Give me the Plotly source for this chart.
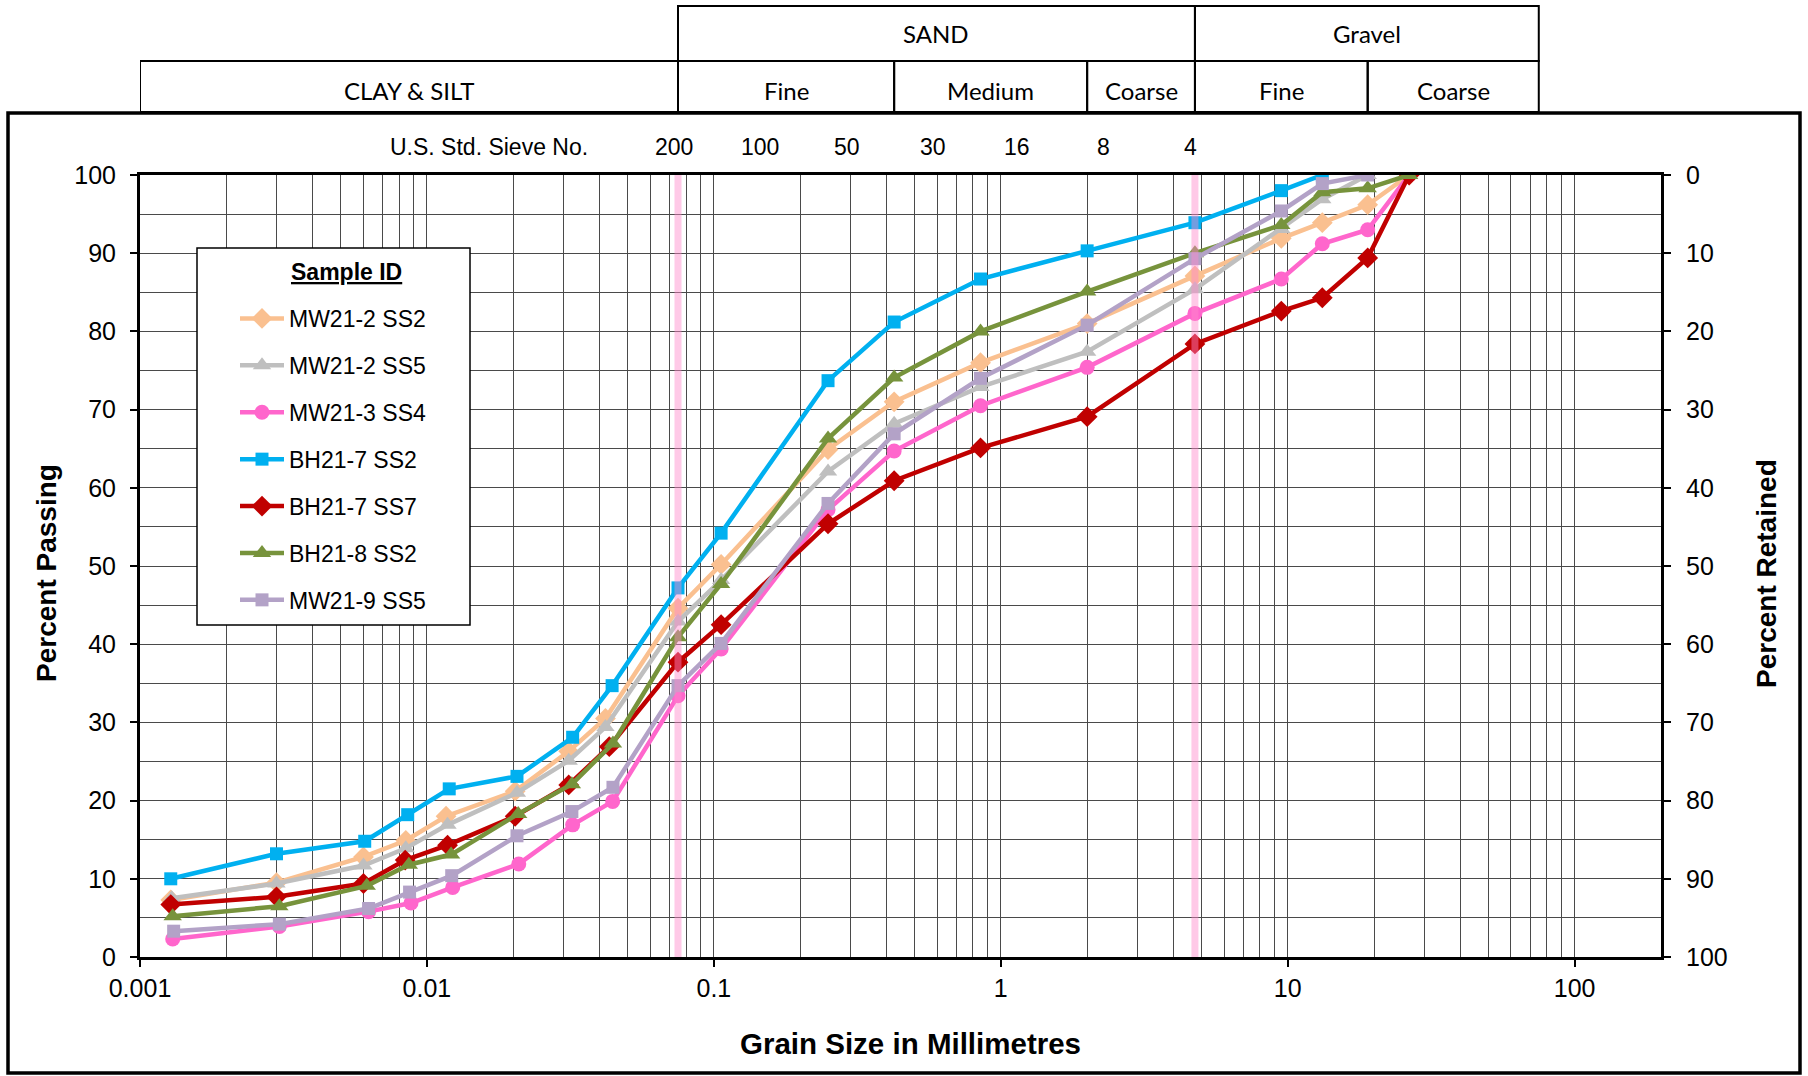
import math
import plotly.graph_objects as go

# ---------------- data ----------------
series_names = ["MW21-2 SS2", "MW21-2 SS5", "MW21-3 SS4", "BH21-7 SS2",
                "BH21-7 SS7", "BH21-8 SS2", "MW21-9 SS5"]

mw21_2_ss2_x = [0.00128, 0.00299, 0.00601, 0.00844, 0.01166, 0.0203, 0.0312, 0.0419,
                0.075, 0.106, 0.25, 0.425, 0.85, 2.0, 4.75, 9.5, 13.2, 19.0, 26.5]
mw21_2_ss2_y = [7.3, 9.5, 12.8, 14.9, 18.0, 21.2, 26.3, 30.5,
                44.6, 50.2, 64.9, 71.0, 76.0, 81.0, 87.1, 91.9, 93.9, 96.2, 100.0]

mw21_2_ss5_x = [0.00129, 0.00299, 0.00601, 0.00844, 0.0118, 0.0206, 0.0312, 0.0419,
                0.075, 0.106, 0.25, 0.425, 0.85, 2.0, 4.75, 9.5, 13.2, 19.0]
mw21_2_ss5_y = [7.5, 9.4, 11.7, 13.9, 16.9, 21.0, 25.1, 29.4,
                42.9, 48.2, 62.1, 68.2, 72.9, 77.4, 85.4, 93.1, 96.9, 100.0]

mw21_3_ss4_x = [0.00130, 0.00306, 0.00626, 0.0088, 0.0123, 0.0209, 0.0322, 0.0444,
                0.075, 0.106, 0.25, 0.425, 0.85, 2.0, 4.75, 9.5, 13.2, 19.0, 26.5]
mw21_3_ss4_y = [2.3, 3.9, 5.8, 6.9, 8.9, 11.9, 16.9, 19.9,
                33.4, 39.4, 57.2, 64.7, 70.5, 75.4, 82.3, 86.7, 91.2, 93.0, 100.0]

bh21_7_ss2_x = [0.00128, 0.00299, 0.00607, 0.00857, 0.01196, 0.0206, 0.0322, 0.0442,
                0.075, 0.106, 0.25, 0.425, 0.85, 2.0, 4.75, 9.5, 13.2]
bh21_7_ss2_y = [10.0, 13.2, 14.8, 18.2, 21.5, 23.1, 28.1, 34.7,
                47.2, 54.2, 73.7, 81.2, 86.7, 90.3, 93.9, 98.0, 100.0]

bh21_7_ss7_x = [0.00128, 0.00299, 0.00601, 0.0084, 0.0118, 0.0203, 0.0312, 0.0432,
                0.075, 0.106, 0.25, 0.425, 0.85, 2.0, 4.75, 9.5, 13.2, 19.0, 26.5]
bh21_7_ss7_y = [6.7, 7.7, 9.4, 12.4, 14.3, 18.0, 22.0, 26.9,
                37.7, 42.5, 55.4, 60.9, 65.1, 69.1, 78.4, 82.6, 84.3, 89.4, 100.0]

bh21_8_ss2_x = [0.00130, 0.00306, 0.00617, 0.00865, 0.01214, 0.0208, 0.0320, 0.0445,
                0.075, 0.106, 0.25, 0.425, 0.85, 2.0, 4.75, 9.5, 13.2, 19.0, 26.5]
bh21_8_ss2_y = [5.2, 6.5, 9.1, 11.8, 13.1, 18.3, 22.1, 27.3,
                40.9, 47.7, 66.3, 74.1, 80.0, 85.1, 90.0, 93.6, 97.8, 98.3, 100.0]

mw21_9_ss5_x = [0.00131, 0.00306, 0.00626, 0.0087, 0.0122, 0.0206, 0.0320, 0.0445,
                0.075, 0.106, 0.25, 0.425, 0.85, 2.0, 4.75, 9.5, 13.2, 19.0]
mw21_9_ss5_y = [3.3, 4.2, 6.2, 8.3, 10.4, 15.5, 18.6, 21.7,
                34.7, 40.1, 58.0, 66.9, 74.0, 80.8, 89.3, 95.4, 98.9, 100.0]

series_x = [mw21_2_ss2_x, mw21_2_ss5_x, mw21_3_ss4_x, bh21_7_ss2_x,
            bh21_7_ss7_x, bh21_8_ss2_x, mw21_9_ss5_x]
series_y = [mw21_2_ss2_y, mw21_2_ss5_y, mw21_3_ss4_y, bh21_7_ss2_y,
            bh21_7_ss7_y, bh21_8_ss2_y, mw21_9_ss5_y]

x_tick_vals = [0.001, 0.01, 0.1, 1, 10, 100]
x_tick_text = ["0.001", "0.01", "0.1", "1", "10", "100"]

sieve_labels = ["200", "100", "50", "30", "16", "8", "4"]
sieve_sizes_mm = [0.075, 0.15, 0.3, 0.6, 1.18, 2.36, 4.75]

# soil classification boundaries (mm)
row2_labels = ["CLAY &amp; SILT", "Fine", "Medium", "Coarse", "Fine", "Coarse"]
row2_bounds = [(0.001, 0.075), (0.075, 0.425), (0.425, 2.0), (2.0, 4.75), (4.75, 19.0), (19.0, 75.0)]
row1_labels = ["SAND", "Gravel"]
row1_bounds = [(0.075, 4.75), (4.75, 75.0)]
marker_lines_mm = [0.075, 4.75]

# ---------------- style ----------------
colors = ["#FAC090", "#BFBFBF", "#FF66CC", "#00B0F0", "#C00000", "#77933C", "#B3A2C7"]
symbols = ["diamond", "triangle-up", "circle", "square", "diamond", "triangle-up", "square"]
msizes = [16, 16, 15, 13, 16, 16, 13]

W, H = 1808, 1076
L, R, T, B = 140, 147, 175, 119
PW, PH = W - L - R, H - T - B
BOT = H - B

def px_x(p):
    return (p - L) / PW

def px_y(p):
    return (BOT - p) / PH

FONT = "Arial, Liberation Sans, sans-serif"
HFONT = "Lato, Calibri, sans-serif"

fig = go.Figure()
for i, name in enumerate(series_names):
    fig.add_trace(go.Scatter(
        x=series_x[i], y=series_y[i], name=name, mode="lines+markers",
        legendgroup="g%d" % i,
        line=dict(color=colors[i], width=4.5),
        marker=dict(symbol=symbols[i], size=msizes[i], color=colors[i]),
    ))
# anchor trace for the right-hand "Percent Retained" axis (no points)
fig.add_trace(go.Scatter(x=[], y=[], yaxis="y2", showlegend=False, hoverinfo="skip"))

shapes = []
# outer frame
shapes.append(dict(type="rect", xref="paper", yref="paper",
                   x0=px_x(8), x1=px_x(1800), y0=px_y(1073), y1=px_y(113),
                   line=dict(color="black", width=3.5), layer="below"))
# header table
for (a, b) in row2_bounds:
    shapes.append(dict(type="rect", xref="x", yref="paper",
                       x0=a, x1=b, y0=px_y(112), y1=px_y(61),
                       line=dict(color="black", width=2)))
for (a, b) in row1_bounds:
    shapes.append(dict(type="rect", xref="x", yref="paper",
                       x0=a, x1=b, y0=px_y(61), y1=px_y(6),
                       line=dict(color="black", width=2)))
# pink boundary lines
for v in marker_lines_mm:
    shapes.append(dict(type="line", xref="x", yref="y",
                       x0=v, x1=v, y0=0, y1=100,
                       line=dict(color="#FF88CC", width=7), opacity=0.45, layer="above"))
# legend box
shapes.append(dict(type="rect", xref="paper", yref="paper",
                   x0=px_x(197), x1=px_x(470), y0=px_y(625), y1=px_y(248),
                   line=dict(color="black", width=1.5), fillcolor="white", layer="above"))

annotations = []
for lab, (a, b) in zip(row2_labels, row2_bounds):
    annotations.append(dict(text=lab, xref="x", yref="paper",
                            x=(math.log10(a) + math.log10(b)) / 2, y=px_y(91),
                            xanchor="center", yanchor="middle",
                            showarrow=False, font=dict(family=HFONT, size=24, color="black")))
for lab, (a, b) in zip(row1_labels, row1_bounds):
    annotations.append(dict(text=lab, xref="x", yref="paper",
                            x=(math.log10(a) + math.log10(b)) / 2, y=px_y(33),
                            xanchor="center", yanchor="middle",
                            showarrow=False, font=dict(family=HFONT, size=24, color="black")))
for lab, v in zip(sieve_labels, sieve_sizes_mm):
    annotations.append(dict(text=lab, xref="x", yref="paper", x=math.log10(v), y=px_y(147),
                            xanchor="center", yanchor="middle",
                            xshift=-4, showarrow=False, font=dict(family=FONT, size=23, color="black")))
annotations.append(dict(text="U.S. Std. Sieve No.", xref="paper", yref="paper",
                        x=px_x(489), y=px_y(147), xanchor="center", yanchor="middle",
                        showarrow=False, font=dict(family=FONT, size=23, color="black")))
annotations.append(dict(text="<b>Percent Passing</b>", xref="paper", yref="paper",
                        x=px_x(46), y=px_y(573), xanchor="center", yanchor="middle",
                        textangle=-90, showarrow=False,
                        font=dict(family=FONT, size=28, color="black")))
annotations.append(dict(text="<b>Percent Retained</b>", xref="paper", yref="paper",
                        x=px_x(1766), y=px_y(573), xanchor="center", yanchor="middle",
                        textangle=-90, showarrow=False,
                        font=dict(family=FONT, size=28, color="black")))
annotations.append(dict(text="<b>Grain Size in Millimetres</b>", xref="paper", yref="paper",
                        x=px_x(910), y=px_y(1043), xanchor="center", yanchor="middle",
                        showarrow=False, font=dict(family=FONT, size=29.5, color="black")))
annotations.append(dict(text="<b><u>Sample ID</u></b>",
                        xref="paper", yref="paper", x=px_x(346), y=px_y(272),
                        xanchor="center", yanchor="middle", showarrow=False,
                        font=dict(family=FONT, size=23, color="black")))

GRID = "#4a4a4a"
fig.update_layout(
    width=W, height=H,
    margin=dict(l=L, r=R, t=T, b=B),
    paper_bgcolor="white", plot_bgcolor="white",
    font=dict(family=FONT, size=23, color="black"),
    shapes=shapes, annotations=annotations,
    showlegend=True,
    legend=dict(x=px_x(235), y=px_y(297), xanchor="left", yanchor="top",
                bgcolor="rgba(0,0,0,0)", borderwidth=0, tracegroupgap=14,
                font=dict(family=FONT, size=23, color="black"), itemwidth=44,
                itemsizing="trace", traceorder="grouped"),
    xaxis=dict(type="log", range=[-3, math.log10(200)],
               tickmode="array", tickvals=x_tick_vals, ticktext=x_tick_text,
               ticks="outside", ticklen=7, tickwidth=1.5, tickcolor="black",
               showline=True, linecolor="black", linewidth=3, mirror=True,
               showgrid=True, gridcolor=GRID, gridwidth=1,
               minor=dict(dtick="D1", showgrid=True, gridcolor=GRID, gridwidth=1),
               tickfont=dict(family=FONT, size=25), zeroline=False),
    yaxis=dict(range=[0, 100], dtick=10, ticks="outside", ticklen=7, tickwidth=1.5,
               tickcolor="black", showline=True, linecolor="black", linewidth=3, mirror=True,
               showgrid=True, gridcolor=GRID, gridwidth=1,
               minor=dict(dtick=5, showgrid=True, gridcolor=GRID, gridwidth=1),
               tickfont=dict(family=FONT, size=25), ticklabelstandoff=9, zeroline=False),
    yaxis2=dict(overlaying="y", side="right", range=[100, 0], dtick=10, ticks="outside",
                ticklen=7, tickwidth=1.5, tickcolor="black", showline=True, linecolor="black",
                linewidth=3, showgrid=False, zeroline=False,
                tickfont=dict(family=FONT, size=25), ticklabelstandoff=10),
)

fig.write_html("out.html", config={"displayModeBar": False},
               post_script="document.body.style.margin='0';")
